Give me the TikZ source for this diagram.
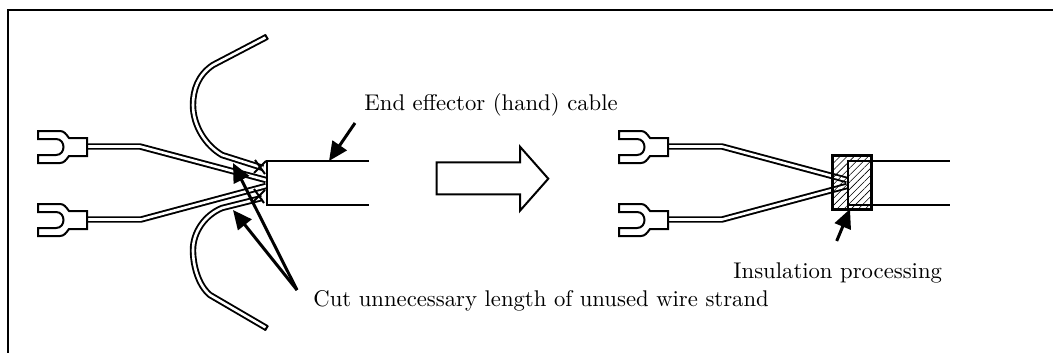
\documentclass[tikz,border=0pt]{standalone}
\usetikzlibrary{arrows.meta,patterns.meta}
\tikzset{
  wire/.style={draw=black,line width=1.9pt,double=white,double distance=2.6pt,line join=round},
  solid line/.style={draw=black,line width=2pt},
  thick line/.style={draw=black,line width=3pt,line join=miter},
  frame line/.style={draw=black,line width=2.8pt},
  pointer/.style={draw=black,line width=3pt,-{Triangle[length=19pt,width=17pt]}},
  label text/.style={scale=2.27,inner sep=0pt,anchor=base west},
  hatched/.style={pattern={Lines[angle=45,distance=5pt,line width=0.6pt]}},
  terminal/.pic={
    \draw[solid line,fill=white,line join=miter] (0,-16) -- (22,-16) .. controls (26,-16) and (28,-13) .. (31,-9) -- (49,-9) -- (49,9) -- (31,9) .. controls (28,13) and (26,16) .. (22,16) -- (0,16) -- (0,8) -- (18,8) .. controls (28,8) and (28,-8) .. (18,-8) -- (0,-8) -- cycle;
  }
}
\begin{document}
\begin{tikzpicture}[x=1pt,y=-1pt]
\useasboundingbox (0,0) rectangle (1053,353);
\draw[frame line] (8,353) -- (8,10) -- (1053,10);
% --- left assembly ---
\coordinate (lwa) at (87,146.5);
\coordinate (lwb) at (140,146.5);
\coordinate (lwc) at (266,180);
\coordinate (lwd) at (87,219.5);
\coordinate (lwe) at (141,219.5);
\coordinate (lwf) at (266,186);
\draw[wire] (266.5,37) -- (213,65) .. controls (198,75) and (193,90) .. (193,105) .. controls (193,125) and (205,145) .. (222,155) -- (263,168);
\draw[wire] (266.5,328) -- (210,295) .. controls (198,285) and (193,265) .. (193,250) .. controls (193,232) and (205,215) .. (222,208) -- (262,198);
\draw[solid line] (265,34.5) -- (268,39.5);
\draw[solid line] (265,330.5) -- (268,325.5);
\draw[wire] (lwa) -- (lwb) -- (lwc);
\draw[wire] (lwd) -- (lwe) -- (lwf);
\pic at (38,147) {terminal};
\pic at (38,220) {terminal};
\coordinate (xa) at (260,167);
\coordinate (xb) at (259,196);
\draw[solid line] ([shift={(-5,-7)}]xa) -- ([shift={(5,7)}]xa);
\draw[solid line] ([shift={(-6,6)}]xa) -- ([shift={(6,-6)}]xa);
\draw[solid line] ([shift={(-5,-7)}]xb) -- ([shift={(5,7)}]xb);
\draw[solid line] ([shift={(-6,6)}]xb) -- ([shift={(6,-6)}]xb);
\coordinate (cla) at (369,161);
\coordinate (clb) at (267,161);
\coordinate (clc) at (267,205);
\coordinate (cld) at (369,205);
\draw[solid line] (cla) -- (clb) -- (clc) -- (cld);
% --- pointers ---
\coordinate (hand) at (355,123);
\coordinate (handtip) at (329,161);
\draw[pointer] (hand) -- (handtip);
\coordinate (cut) at (297,290);
\coordinate (cuta) at (233,163);
\coordinate (cutb) at (233,210);
\draw[pointer] (cut) -- (cuta);
\draw[pointer] (cut) -- (cutb);
% --- block arrow ---
\draw[solid line,line join=miter] (436.7,162.3) -- (520,162.3) -- (520,146.7) -- (548.3,178.7) -- (520,210.7) -- (520,194.3) -- (436.7,194.3) -- cycle;
% --- right assembly ---
\coordinate (rwa) at (669,146.5);
\coordinate (rwb) at (722,146.5);
\coordinate (rwc) at (847,180);
\coordinate (rwd) at (669,219.5);
\coordinate (rwe) at (722,219.5);
\coordinate (rwf) at (847,186);
\draw[wire] (rwa) -- (rwb) -- (rwc);
\draw[wire] (rwd) -- (rwe) -- (rwf);
\pic at (619,147) {terminal};
\pic at (619,220) {terminal};
\coordinate (boxa) at (832,155);
\coordinate (boxb) at (871.7,209);
\path[hatched] (boxa) rectangle (boxb);
\draw[thick line] (boxa) rectangle (boxb);
\coordinate (ina) at (848.3,209);
\coordinate (inb) at (848.3,161);
\coordinate (inc) at (950,161);
\coordinate (ind) at (848.3,205);
\coordinate (ine) at (950,205);
\draw[solid line] (ina) -- (inb) -- (inc);
\draw[solid line] (ind) -- (ine);
\coordinate (ins) at (836.7,241);
\coordinate (instip) at (850,209);
\draw[pointer] (ins) -- (instip);
% --- labels ---
\node[label text] (handlabel) at (364,110.5) {End effector (hand) cable};
\node[label text] (cutlabel) at (313,306.5) {Cut unnecessary length of unused wire strand};
\node[label text] (inslabel) at (733,278) {Insulation processing};
\end{tikzpicture}
\end{document}
